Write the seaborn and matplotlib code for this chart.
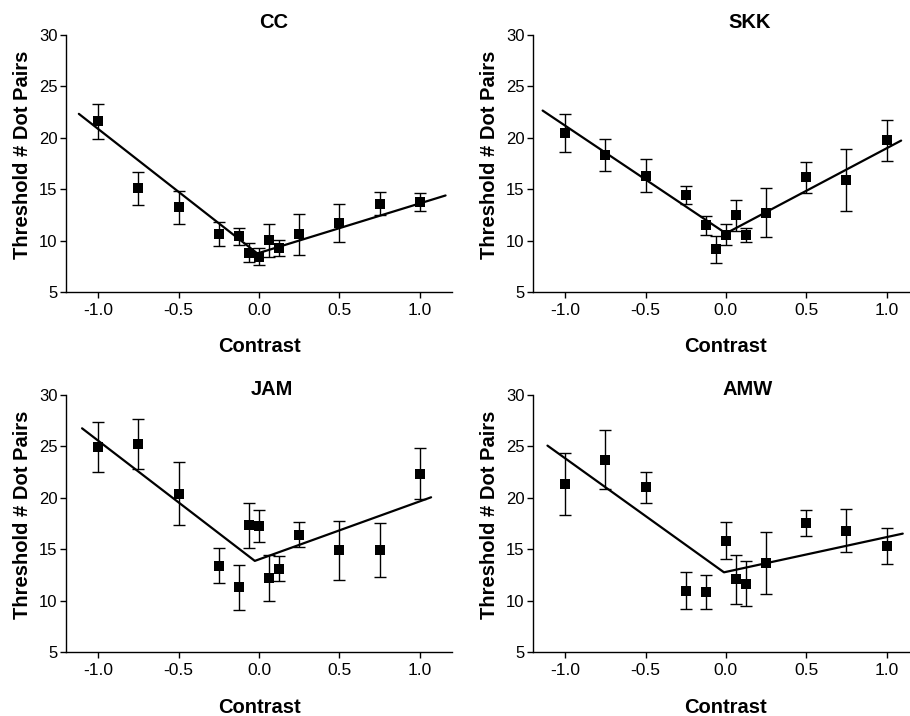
import numpy as np
import pandas as pd
import matplotlib
matplotlib.use('Agg')
import matplotlib.pyplot as plt
import seaborn as sns

# Contrast levels (AMW has no -0.0625 condition)
contrast = [-1.0, -0.75, -0.5, -0.25, -0.125, -0.0625, 0.0, 0.0625, 0.125, 0.25, 0.5, 0.75, 1.0]
contrast_amw = [-1.0, -0.75, -0.5, -0.25, -0.125, 0.0, 0.0625, 0.125, 0.25, 0.5, 0.75, 1.0]

# Thresholds and error bar half-widths per observer
cc_mean = [21.6, 15.1, 13.25, 10.65, 10.4, 8.8, 8.45, 10.05, 9.25, 10.6, 11.7, 13.6, 13.75]
cc_err = [1.69, 1.62, 1.62, 1.18, 0.81, 0.92, 0.84, 1.6, 0.76, 1.98, 1.82, 1.15, 0.9]

skk_mean = [20.45, 18.3, 16.3, 14.45, 11.5, 9.15, 10.55, 12.45, 10.55, 12.7, 16.15, 15.9, 19.75]
skk_err = [1.83, 1.55, 1.59, 0.89, 0.94, 1.33, 1.02, 1.49, 0.68, 2.37, 1.53, 3.0, 2.0]

jam_mean = [24.9, 25.2, 20.35, 13.4, 11.3, 17.3, 17.25, 12.2, 13.1, 16.4, 14.9, 14.9, 22.3]
jam_err = [2.42, 2.46, 3.06, 1.7, 2.19, 2.17, 1.53, 2.25, 1.25, 1.2, 2.87, 2.59, 2.48]

amw_mean = [21.3, 23.7, 21.0, 10.95, 10.8, 15.8, 12.05, 11.65, 13.6, 17.55, 16.8, 15.3]
amw_err = [3.02, 2.85, 1.53, 1.78, 1.66, 1.81, 2.4, 2.22, 3.01, 1.28, 2.12, 1.79]

# V-shaped fits (left end, vertex, right end)
cc_fit_x = [-1.12, -0.01, 1.16]
cc_fit_y = [22.33, 8.75, 14.39]
skk_fit_x = [-1.14, 0.0, 1.09]
skk_fit_y = [22.65, 10.7, 19.73]
jam_fit_x = [-1.10, -0.026, 1.07]
jam_fit_y = [26.73, 13.85, 20.03]
amw_fit_x = [-1.11, -0.012, 1.10]
amw_fit_y = [25.05, 12.74, 16.5]

sns.set_theme(style='ticks')
plt.rcParams['font.family'] = ['Liberation Sans', 'DejaVu Sans']
plt.rcParams['axes.unicode_minus'] = False

fig = plt.figure(figsize=(9.1, 7.16), dpi=100)

panels = [
    ('CC', contrast, cc_mean, cc_err, cc_fit_x, cc_fit_y, [0.0725, 0.5922, 0.4242, 0.3589], 0.539, 1.026),
    ('SKK', contrast, skk_mean, skk_err, skk_fit_x, skk_fit_y, [0.5857, 0.5922, 0.4240, 0.3589], 0.5625, 1.026),
    ('JAM', contrast, jam_mean, jam_err, jam_fit_x, jam_fit_y, [0.0725, 0.0894, 0.4242, 0.3594], 0.533, 1.0),
    ('AMW', contrast_amw, amw_mean, amw_err, amw_fit_x, amw_fit_y, [0.5857, 0.0894, 0.4240, 0.3594], 0.557, 1.0),
]

for name, x, m, e, fx, fy, rect, tx, ty in panels:
    ax = fig.add_axes(rect)
    ax.errorbar(x, m, yerr=e, fmt='none', ecolor='black', elinewidth=1.0,
                capsize=4, capthick=1.0, zorder=2)
    sns.lineplot(x=fx, y=fy, sort=False, color='black', linewidth=1.6, ax=ax, zorder=3)
    sns.scatterplot(x=x, y=m, marker='s', s=44, color='black', linewidth=0, ax=ax, zorder=4)

    ax.set_xlim(-1.2, 1.2)
    ax.set_ylim(5, 30)
    ax.set_xticks([-1.0, -0.5, 0.0, 0.5, 1.0])
    ax.set_xticklabels(['-1.0', '-0.5', '0.0', '0.5', '1.0'])
    ax.set_yticks([5, 10, 15, 20, 25, 30])
    ax.tick_params(axis='both', direction='out', length=4, width=1.0, color='black',
                   labelcolor='black')
    ax.tick_params(axis='x', pad=4, labelsize=12.5)
    ax.tick_params(axis='y', pad=2, labelsize=12)
    sns.despine(ax=ax)
    for s in ['left', 'bottom']:
        ax.spines[s].set_color('black')
        ax.spines[s].set_linewidth(1.0)

    ax.set_xlabel('Contrast', fontsize=14.5, fontweight='bold', color='black')
    ax.set_ylabel('Threshold # Dot Pairs', fontsize=14.5, fontweight='bold', color='black')
    ax.xaxis.set_label_coords(0.5, -0.177)
    ax.yaxis.set_label_coords(-0.0886, 0.533)
    ax.set_title(name, fontsize=14.5, fontweight='bold', color='black', x=tx, y=ty, pad=0)

fig.savefig('out.png', dpi=100)
